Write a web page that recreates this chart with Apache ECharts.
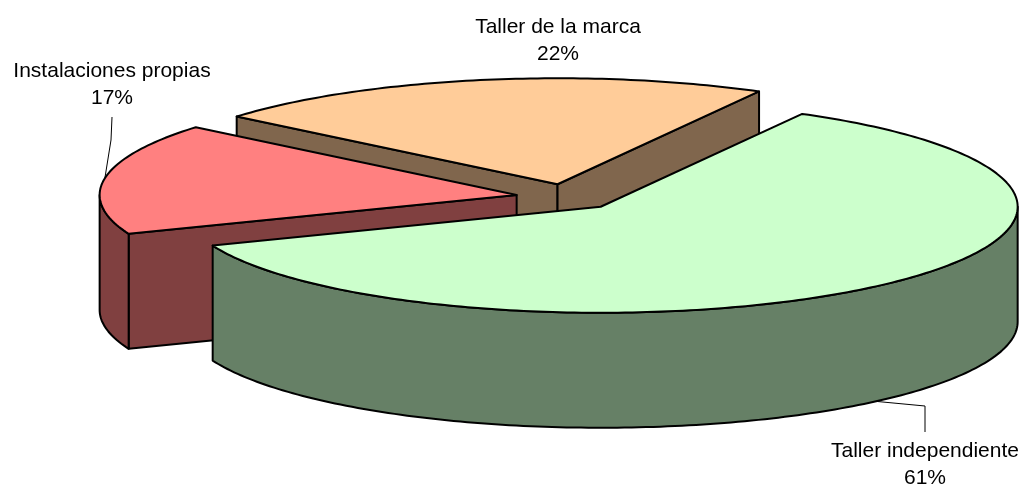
<!DOCTYPE html>
<html>
<head>
<meta charset="utf-8">
<script src="https://cdn.jsdelivr.net/npm/echarts@6/dist/echarts.min.js"></script>
<style>
	html, body { margin: 0; padding: 0; background: #fff; }
	#chart { width: 1025px; height: 485px; }
</style>
</head>
<body>
<div id="chart"></div>
<script>
	// datos del grafico
	var categories = ["Instalaciones propias", "Taller de la marca", "Taller independiente"];
	var values = [17, 22, 61];
	var topColors = ["#FF8080", "#FFCC99", "#CCFFCC"];
	var sideColors = ["#804040", "#80664D", "#668066"];

	// geometria del pastel 3D (pixeles)
	var pie = {cx: 567, cy: 197, rx: 417, ry: 106, depth: 115, explode: 51, startAngle: 158.5};
	// posicion de las etiquetas y codos de las lineas guia
	var labelLayout = [
		{x: 112, y: 85, leader: [[111, 140], [112, 117]]},
		{x: 558, y: 41, leader: []},
		{x: 925, y: 465, leader: [[925, 406], [925, 432]]}
	];

	var total = values.reduce(function (a, b) { return a + b; }, 0);
	var angles = [];
	var acc = pie.startAngle;
	values.forEach(function (v) {
		var span = v / total * 360;
		angles.push([acc, acc + span]);
		acc += span;
	});

	function rad(d) { return d * Math.PI / 180; }
	function pt(ox, oy, deg, dz) {
		return [ox + pie.rx * Math.cos(rad(deg)), oy + pie.ry * Math.sin(rad(deg)) + (dz || 0)];
	}
	function arc(ox, oy, a, b, dz) {
		var pts = [];
		var n = Math.max(2, Math.ceil(Math.abs(b - a)));
		for (var i = 0; i <= n; i++) pts.push(pt(ox, oy, a + (b - a) * i / n, dz));
		return pts;
	}
	function origin(i) {
		var mid = (angles[i][0] + angles[i][1]) / 2;
		return [pie.cx + pie.explode * Math.cos(rad(mid)),
			pie.cy + pie.explode * (pie.ry / pie.rx) * Math.sin(rad(mid))];
	}

	// orden de pintado: de atras hacia delante
	var order = values.map(function (v, i) { return i; })
		.sort(function (p, q) { return origin(p)[1] - origin(q)[1]; });

	function renderItem(params, api) {
		var i = params.dataIndex;
		var a = angles[i][0], b = angles[i][1];
		var o = origin(i);
		var ox = o[0], oy = o[1], d = pie.depth;
		var rank = order.indexOf(i) * 10;
		var edge = {stroke: "#000", lineWidth: 2, lineJoin: "round"};
		var children = [];
		function face(points, fill, z) {
			children.push({
				type: "polygon", z2: rank + z,
				shape: {points: points},
				style: Object.assign({fill: fill}, edge)
			});
		}
		// caras radiales visibles
		if (Math.cos(rad(a)) < 0) {
			face([[ox, oy], pt(ox, oy, a), pt(ox, oy, a, d), [ox, oy + d]], sideColors[i], 1);
		}
		if (Math.cos(rad(b)) > 0) {
			face([[ox, oy], pt(ox, oy, b), pt(ox, oy, b, d), [ox, oy + d]], sideColors[i], 1);
		}
		// pared exterior (solo la mitad delantera)
		for (var k = Math.floor(a / 360) - 1; k <= Math.ceil(b / 360); k++) {
			var s = Math.max(a, k * 360), e = Math.min(b, k * 360 + 180);
			if (e > s) {
				var wall = arc(ox, oy, s, e, 0).concat(arc(ox, oy, e, s, d));
				face(wall, sideColors[i], 2);
			}
		}
		// tapa superior
		face([[ox, oy]].concat(arc(ox, oy, a, b, 0)), topColors[i], 3);

		// linea guia y etiqueta
		var lay = labelLayout[i];
		var mid = (a + b) / 2;
		if (lay.leader.length) {
			var anchor = Math.sin(rad(mid)) > 0 ? pt(ox, oy, mid, d) : pt(ox, oy, mid, 0);
			children.push({
				type: "polyline", z2: 100,
				shape: {points: [anchor].concat(lay.leader)},
				style: {stroke: "#000", lineWidth: 1, fill: null}
			});
		}
		children.push({
			type: "text", z2: 101,
			style: {
				text: categories[i] + "\n" + Math.round(values[i] / total * 100) + "%",
				x: lay.x, y: lay.y,
				align: "center", verticalAlign: "middle",
				fontSize: 21, lineHeight: 27,
				fontFamily: "'Liberation Sans', Arial, sans-serif",
				fill: "#000"
			}
		});
		return {type: "group", children: children};
	}

	var chart = echarts.init(document.getElementById("chart"));
	chart.setOption({
		backgroundColor: "#fff",
		animation: false,
		series: [{
			type: "custom",
			coordinateSystem: "none",
			silent: true,
			renderItem: renderItem,
			data: values.map(function (v, i) { return [i, v]; })
		}]
	});
	window.addEventListener("resize", chart.resize);
</script>
</body>
</html>
